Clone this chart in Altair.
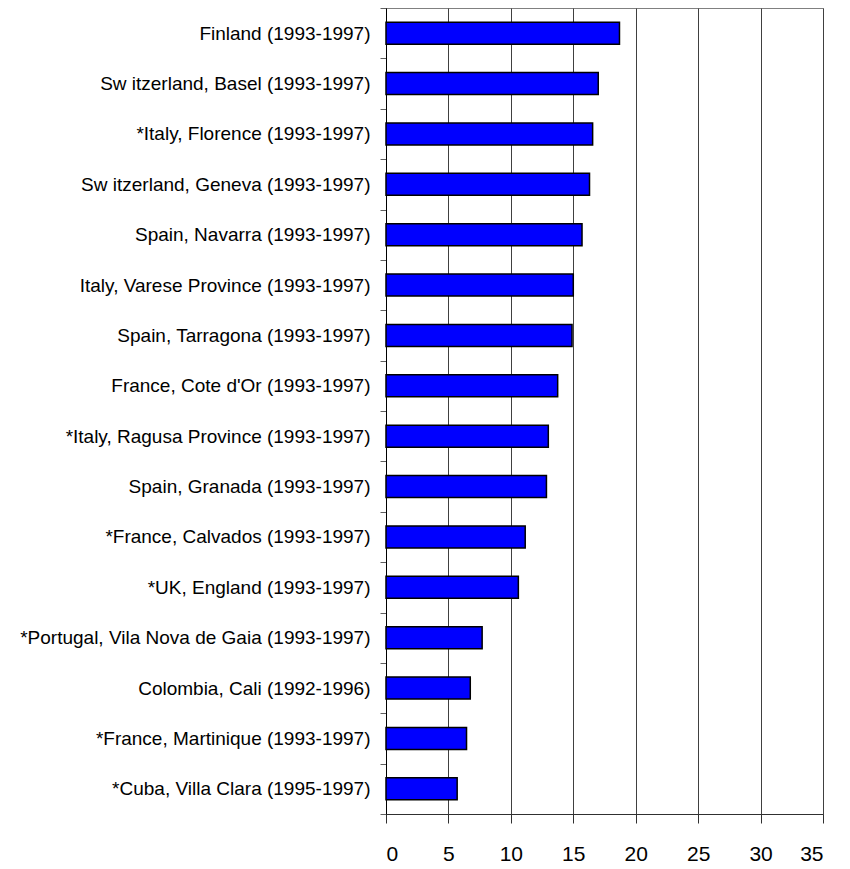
import altair as alt
import pandas as pd

categories = [
    "Finland (1993-1997)",
    "Sw itzerland, Basel (1993-1997)",
    "*Italy, Florence (1993-1997)",
    "Sw itzerland, Geneva (1993-1997)",
    "Spain, Navarra (1993-1997)",
    "Italy, Varese Province (1993-1997)",
    "Spain, Tarragona (1993-1997)",
    "France, Cote d'Or (1993-1997)",
    "*Italy, Ragusa Province (1993-1997)",
    "Spain, Granada (1993-1997)",
    "*France, Calvados (1993-1997)",
    "*UK, England (1993-1997)",
    "*Portugal, Vila Nova de Gaia (1993-1997)",
    "Colombia, Cali (1992-1996)",
    "*France, Martinique (1993-1997)",
    "*Cuba, Villa Clara (1995-1997)",
]
values = [18.7, 17.0, 16.55, 16.3, 15.7, 15.0, 14.9, 13.75, 13.0, 12.85,
          11.15, 10.6, 7.7, 6.75, 6.45, 5.7]
x_ticks = [0, 5, 10, 15, 20, 25, 30, 35]

df = pd.DataFrame({"cat": categories, "val": values})

FONT = "Liberation Sans"

chart = alt.Chart(df).mark_bar(
    size=22, color="#0000FF", stroke="#000000", strokeWidth=1.5
).encode(
    x=alt.X("val:Q",
            scale=alt.Scale(domain=[0, 35], nice=False, zero=True),
            axis=alt.Axis(values=x_ticks, title=None, grid=True,
                          gridColor="#404040", gridWidth=1,
                          domainColor="#303030", tickColor="#303030",
                          tickSize=9, labelPadding=20, labelFontSize=21,
                          labelFont=FONT, labelColor="#000000")),
    y=alt.Y("cat:N", sort=categories,
            scale=alt.Scale(paddingInner=0, paddingOuter=0),
            axis=alt.Axis(title=None, tickBand="extent", tickExtra=True,
                          domainColor="#000000", tickColor="#606060",
                          tickSize=6, labelPadding=10, labelFontSize=19,
                          labelFont=FONT, labelColor="#000000",
                          labelLimit=0, grid=False)),
).properties(
    width=437, height=806,
    autosize=alt.AutoSizeParams(type="none"),
    padding={"left": 378, "top": 0, "right": 15, "bottom": 52},
).configure_view(
    stroke="#808080", strokeWidth=1
)

chart.save("out.html", embed_options={"renderer": "svg", "actions": False})
